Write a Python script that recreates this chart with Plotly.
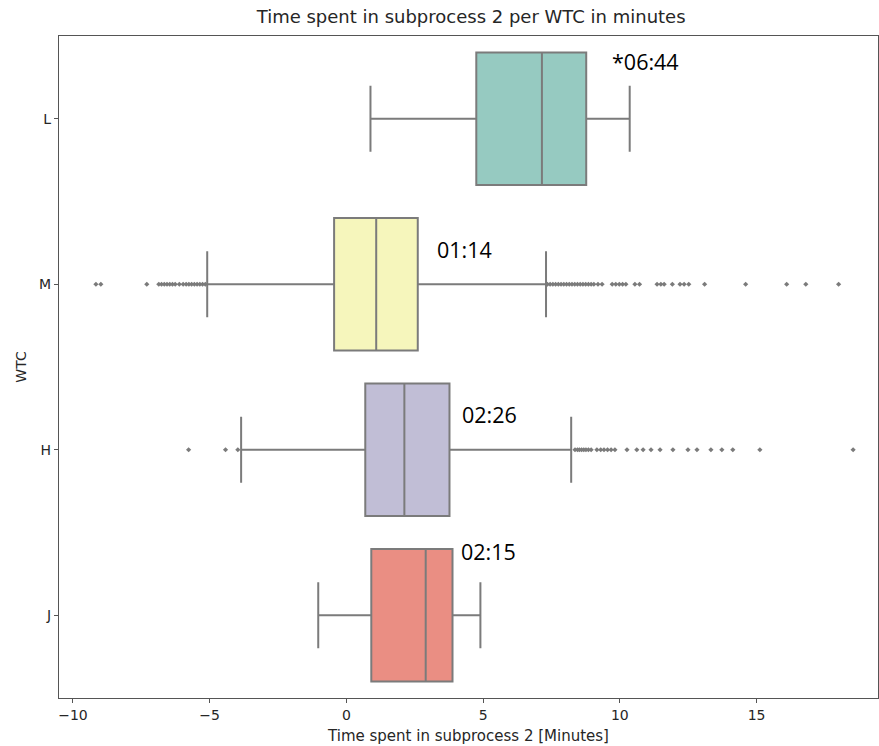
import plotly.graph_objects as go

# WTC groups, top to bottom
categories = ["L", "M", "H", "J"]

# Box statistics per group (minutes)
q1 = [4.75, -0.45, 0.69, 0.91]
median = [7.15, 1.09, 2.12, 2.90]
q3 = [8.77, 2.61, 3.77, 3.88]
lower_fence = [0.88, -5.09, -3.85, -1.03]
upper_fence = [10.36, 7.30, 8.22, 4.90]

# Outliers per group
outliers_L = []
outliers_M = [
    -9.16, -8.98, -7.30, -6.86, -6.76, -6.66, -6.56, -6.46, -6.36, -6.26,
    -6.11, -5.97, -5.86, -5.76, -5.66, -5.56, -5.46, -5.36, -5.26, -5.16,
    7.35, 7.45, 7.55, 7.65, 7.75, 7.85, 7.95, 8.05, 8.15, 8.25, 8.35, 8.45,
    8.55, 8.65, 8.75, 8.85, 8.95, 9.05, 9.20, 9.35, 9.72, 9.85, 9.98, 10.10,
    10.22, 10.55, 10.72, 11.36, 11.50, 11.62, 11.92, 12.20, 12.35, 12.52,
    13.10, 14.60, 16.10, 16.80, 18.00,
]
outliers_H = [
    -5.77, -4.42, -3.97,
    8.36, 8.45, 8.52, 8.60, 8.68, 8.76, 8.85, 8.95, 9.16, 9.30, 9.42, 9.55,
    9.68, 9.82, 10.26, 10.62, 10.85, 11.14, 11.47, 11.94, 12.49, 12.82,
    13.33, 13.73, 14.13, 15.12, 18.53,
]
outliers_J = []
outliers = [outliers_L, outliers_M, outliers_H, outliers_J]

# Time labels written next to each box
label_texts = ["*06:44", "01:14", "02:26", "02:15"]
label_x = [9.64, 3.25, 4.17, 4.13]
label_y = [0.961, 0.677, 0.429, 0.222]

fill_colors = ["#96cac1", "#f6f6bc", "#c1bed6", "#ea8e83"]
line_gray = "#7b7b7b"

fig = go.Figure()

for i, cat in enumerate(categories):
    fig.add_trace(go.Box(
        y=[cat],
        q1=[q1[i]], median=[median[i]], q3=[q3[i]],
        lowerfence=[lower_fence[i]], upperfence=[upper_fence[i]],
        orientation="h",
        width=0.8,
        fillcolor=fill_colors[i],
        line=dict(color=line_gray, width=2),
        whiskerwidth=0.5,
        boxpoints=False,
        showlegend=False,
        hoverinfo="skip",
    ))
    if outliers[i]:
        fig.add_trace(go.Scatter(
            x=outliers[i], y=[cat] * len(outliers[i]),
            mode="markers",
            marker=dict(symbol="diamond", size=4, color=line_gray),
            showlegend=False,
            hoverinfo="skip",
        ))

for txt, x, y in zip(label_texts, label_x, label_y):
    fig.add_annotation(
        x=x, y=y, xref="x", yref="paper", text=txt, showarrow=False,
        xanchor="left", yanchor="middle",
        font=dict(family="Open Sans", size=21.5, color="black"),
    )

fig.update_layout(
    width=879, height=746,
    margin=dict(l=59, r=1, t=36, b=48),
    paper_bgcolor="white", plot_bgcolor="white",
    boxmode="overlay",
    font=dict(family="DejaVu Sans", size=14, color="#262626"),
    title=dict(
        text="Time spent in subprocess 2 per WTC in minutes",
        x=0.536, xanchor="center", y=0.978, yanchor="middle",
        font=dict(family="DejaVu Sans", size=18, color="#262626"),
    ),
    xaxis=dict(
        range=[-10.51, 19.44],
        tickvals=[-10, -5, 0, 5, 10, 15],
        showgrid=False, zeroline=False,
        showline=True, mirror=True, linecolor="#555555", linewidth=1.2,
        ticks="outside", ticklen=4, tickcolor="#555555",
        tickfont=dict(size=14),
        title=dict(text="Time spent in subprocess 2 [Minutes]", standoff=8,
                   font=dict(size=15)),
    ),
    yaxis=dict(
        categoryorder="array", categoryarray=categories,
        range=[3.5, -0.5],
        showgrid=False, zeroline=False,
        showline=True, mirror=True, linecolor="#555555", linewidth=1.2,
        ticks="outside", ticklen=4, tickcolor="#555555",
        tickfont=dict(size=14),
        title=dict(text="WTC", standoff=9, font=dict(size=14)),
    ),
)

fig.write_html("out.html")
